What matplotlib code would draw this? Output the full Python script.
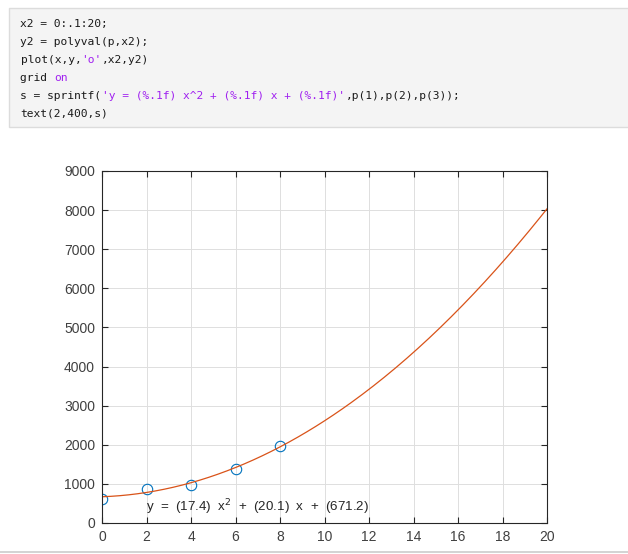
import numpy as np
import matplotlib
matplotlib.use("Agg")
import matplotlib.pyplot as plt
from matplotlib.patches import Rectangle

# ---- data ----
x = [0, 2, 4, 6, 8]
y = [615, 879, 974, 1392, 1974]
p = [17.4, 20.1, 671.2]          # fitted polynomial coefficients (shown in chart)
x2 = np.arange(0, 20.0001, 0.1)  # x2 = 0:.1:20
y2 = np.polyval(p, x2)
xticks = [0, 2, 4, 6, 8, 10, 12, 14, 16, 18, 20]
yticks = [0, 1000, 2000, 3000, 4000, 5000, 6000, 7000, 8000, 9000]
label = "y  =  (%.1f)  x$^2$  +  (%.1f)  x  +  (%.1f)" % (p[0], p[1], p[2])

code_lines = [
    [("x2 = 0:.1:20;", "k")],
    [("y2 = polyval(p,x2);", "k")],
    [("plot(x,y,", "k"), ("'o'", "p"), (",x2,y2)", "k")],
    [("grid ", "k"), ("on", "p")],
    [("s = sprintf(", "k"), ("'y = (%.1f) x^2 + (%.1f) x + (%.1f)'", "p"),
     (",p(1),p(2),p(3));", "k")],
    [("text(2,400,s)", "k")],
]

W, H, DPI = 628, 554, 100
fig = plt.figure(figsize=(W / DPI, H / DPI), dpi=DPI)
fig.patch.set_facecolor("white")

def fx(px):
    return px / W

def fy(py):
    return 1 - py / H

# code block
fig.patches.append(Rectangle((fx(9), fy(127)), fx(640) - fx(9), fy(8) - fy(127),
                             transform=fig.transFigure, facecolor="#f4f4f4",
                             edgecolor="#dcdcdc", linewidth=1.0))
fs_code = 8.1
cw = fs_code * 0.602 * DPI / 72.0
colors = {"k": "#1a1a1a", "p": "#a020f0"}
for i, segs in enumerate(code_lines):
    ypix = 24 + i * 17.9
    xpix = 20.5
    for txt, c in segs:
        fig.text(fx(xpix), fy(ypix), txt, family="DejaVu Sans Mono", fontsize=fs_code,
                 color=colors[c], va="center", ha="left")
        xpix += len(txt) * cw

# bottom separator line
fig.add_artist(plt.Line2D([0, 1], [fy(552), fy(552)], transform=fig.transFigure,
                          color="#cccccc", linewidth=1.2))

# axes
ax = fig.add_axes([fx(102), fy(523), fx(547) - fx(102), fy(171) - fy(523)])
ax.plot(x, y, "o", markerfacecolor="none", markeredgecolor="#0072BD",
        markersize=7.5, markeredgewidth=0.8)
ax.plot(x2, y2, "-", color="#D95319", linewidth=0.9)
ax.set_xlim(0, 20)
ax.set_ylim(0, 9000)
ax.set_xticks(xticks)
ax.set_yticks(yticks)
ax.set_xticklabels([str(t) for t in xticks])
ax.set_yticklabels([str(t) for t in yticks])
ax.grid(True, color="#dedede", linewidth=0.7)
ax.set_axisbelow(True)
for s in ax.spines.values():
    s.set_color("#262626")
    s.set_linewidth(0.8)
ax.tick_params(direction="in", length=4, width=0.8, colors="#262626",
               top=True, right=True, labelsize=10, pad=5)
for t in ax.get_xticklabels() + ax.get_yticklabels():
    t.set_family("Liberation Sans")
    t.set_color("#404040")
ax.text(2, 400, label, fontsize=9.6, family="Liberation Sans", color="#262626",
        va="center", ha="left")

fig.savefig("out.png", dpi=DPI)
